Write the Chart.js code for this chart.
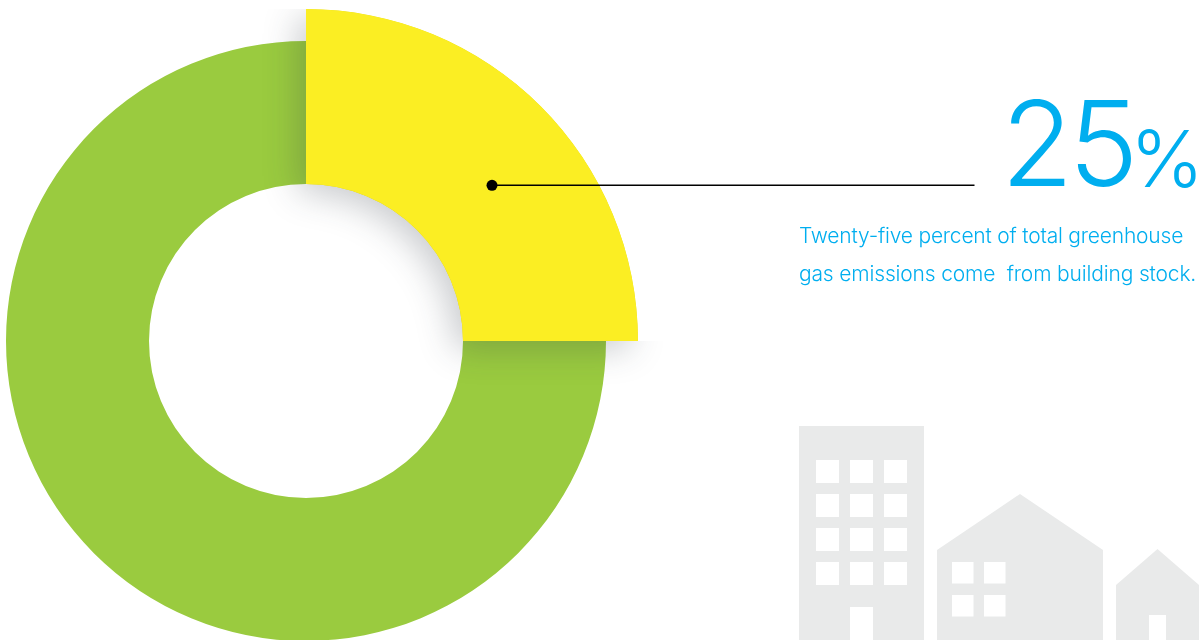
<!DOCTYPE html>
<html>
<head>
<meta charset="utf-8">
<title>Building stock emissions</title>
<script src="https://cdn.jsdelivr.net/npm/chart.js@4.4.0/dist/chart.umd.min.js"></script>
<style>
  html, body { margin: 0; padding: 0; background: #fff; overflow: hidden; }
  #page { position: relative; width: 1202px; height: 640px; overflow: hidden; }
  #donut { position: absolute; left: -66px; top: -31px; }
  #decor { position: absolute; left: 0; top: 0; }
  .txt { position: absolute; color: #00aeef; font-family: Inter, sans-serif; white-space: pre; }
  #big { left: 1001px; top: 72px; font-size: 118px; line-height: 142px; font-weight: 300; letter-spacing: -5px; }
  #pct { left: 1130px; top: 110px; font-size: 79px; line-height: 96px; font-weight: 300; letter-spacing: -3px; }
  #line1 { left: 799px; top: 222px; font-size: 21px; line-height: 28px; font-weight: 350; letter-spacing: -0.2px; }
  #line2 { left: 799px; top: 260px; font-size: 21px; line-height: 28px; font-weight: 350; letter-spacing: -0.16px; }
</style>
</head>
<body>
<div id="page">
  <canvas id="donut" width="744" height="744"></canvas>

  <svg id="decor" width="1202" height="640">
    <g fill="#e9eaea">
      <path d="M799 426H924V640H799Z"/>
      <path d="M937 550L1020 494L1103 550V640H937Z"/>
      <path d="M1116 585L1157.5 549L1199 585V640H1116Z"/>
    </g>
    <g fill="#fff">
      <rect x="816" y="460" width="23" height="23"/><rect x="850" y="460" width="23" height="23"/><rect x="884" y="460" width="23" height="23"/>
      <rect x="816" y="494" width="23" height="23"/><rect x="850" y="494" width="23" height="23"/><rect x="884" y="494" width="23" height="23"/>
      <rect x="816" y="528" width="23" height="23"/><rect x="850" y="528" width="23" height="23"/><rect x="884" y="528" width="23" height="23"/>
      <rect x="816" y="562" width="23" height="23"/><rect x="850" y="562" width="23" height="23"/><rect x="884" y="562" width="23" height="23"/>
      <rect x="850" y="607" width="23" height="33"/>
      <rect x="952" y="562" width="21.5" height="21.5"/><rect x="984" y="562" width="21.5" height="21.5"/>
      <rect x="952" y="595" width="21.5" height="21.5"/><rect x="984" y="595" width="21.5" height="21.5"/>
      <rect x="1149" y="615" width="17" height="25"/>
    </g>
    <line x1="492" y1="185.3" x2="974.5" y2="185.3" stroke="#000" stroke-width="1.4"/>
    <circle cx="492" cy="185.3" r="5.5" fill="#000"/>
  </svg>

  <div class="txt" id="big">25</div>
  <div class="txt" id="pct">%</div>
  <div class="txt" id="line1">Twenty-five percent of total greenhouse</div>
  <div class="txt" id="line2">gas emissions come  from building stock.</div>
</div>

<script>
// ---- data ----
const categories = ['Other sources', 'Building stock'];
const shareValues = [75, 25];
const ringColors = ['#9acb3f', '#fbee23'];
const tabColors = ['rgba(0,0,0,0)', '#fbee23'];

// yellow slice stands proud of the ring, with a soft shadow on what is under it
const sliceShadow = {
    id: 'sliceShadow',
    afterDatasetsDraw(chart) {
        const tab = chart.getDatasetMeta(0).data[1];
        const body = chart.getDatasetMeta(1).data[1];
        const ctx = chart.ctx;
        const R = tab.outerRadius;

        ctx.save();
        // no shadow past the outer arc, only to the left and below the slice
        ctx.beginPath();
        ctx.moveTo(0, tab.y - R);
        ctx.lineTo(tab.x, tab.y - R);
        ctx.arc(tab.x, tab.y, R, tab.startAngle, tab.endAngle);
        ctx.lineTo(chart.width, tab.y);
        ctx.lineTo(chart.width, chart.height);
        ctx.lineTo(0, chart.height);
        ctx.closePath();
        ctx.clip();

        ctx.shadowColor = 'rgba(45,55,65,0.26)';
        ctx.shadowBlur = 34;
        ctx.shadowOffsetX = -8;
        ctx.shadowOffsetY = 8;
        ctx.fillStyle = ringColors[1];
        ctx.beginPath();
        ctx.arc(tab.x, tab.y, R, tab.startAngle, tab.endAngle);
        ctx.arc(body.x, body.y, body.innerRadius, body.endAngle, body.startAngle, true);
        ctx.closePath();
        ctx.fill();
        ctx.restore();
    }
};

new Chart(document.getElementById('donut'), {
    type: 'doughnut',
    data: {
        labels: categories,
        datasets: [
            { data: shareValues, backgroundColor: tabColors, borderWidth: 0, weight: 32 },
            { data: shareValues, backgroundColor: ringColors, borderWidth: 0, weight: 143 }
        ]
    },
    options: {
        responsive: false,
        animation: false,
        rotation: 90,
        cutout: 157,
        hoverOffset: 0,
        layout: { padding: 40 },
        plugins: { legend: { display: false }, tooltip: { enabled: false } }
    },
    plugins: [sliceShadow]
});
</script>
</body>
</html>
